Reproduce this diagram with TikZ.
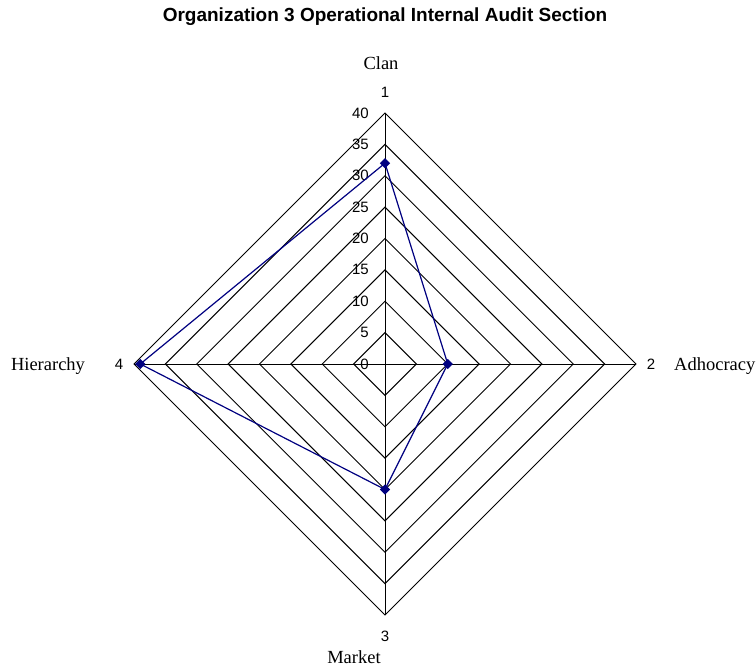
\documentclass[tikz,border=0pt]{standalone}
\usepackage{fontspec}
\setmainfont{Liberation Serif}
\newfontfamily\arialfont{Liberation Sans}
\usetikzlibrary{shapes.geometric}
\definecolor{seriesblue}{RGB}{0,0,128}
\tikzset{
  gridline/.style={black, line width=0.9pt},
  ticklabel/.style={font=\arialfont\fontsize{15}{15}\selectfont, anchor=east, inner sep=0pt},
  axisnum/.style={font=\arialfont\fontsize{15}{15}\selectfont, inner sep=0pt},
  catlabel/.style={font=\fontsize{18.5}{18.5}\selectfont, inner sep=0pt},
  series/.style={seriesblue, line width=1.2pt},
  marker/.style={diamond, fill=seriesblue, draw=none, inner sep=0pt, minimum size=10.5pt},
}
\begin{document}
\begin{tikzpicture}[x=1pt,y=1pt]
  \useasboundingbox (-385,-307) rectangle (371,364);
  \def\u{6.275}
  % concentric rings every 5 units
  \foreach \k in {5,10,...,40}{
    \pgfmathsetmacro{\r}{\k*\u}
    \draw[gridline] (0,\r) -- (\r,0) -- (0,-\r) -- (-\r,0) -- cycle;
    \node[ticklabel] at (-16,\r) {\k};
  }
  \node[ticklabel] at (-16,0) {0};
  % spokes
  \coordinate (c) at (0,0);
  \coordinate (a1) at (0,251);
  \coordinate (a2) at (251,0);
  \coordinate (a3) at (0,-251);
  \coordinate (a4) at (-251,0);
  \foreach \a in {a1,a2,a3,a4} \draw[gridline] (c) -- (\a);
  % axis numbers and category names
  \node[axisnum] (n1) at (0,272) {1};
  \node[axisnum] (n2) at (266,0) {2};
  \node[axisnum] (n3) at (0,-272) {3};
  \node[axisnum] (n4) at (-266,0) {4};
  \node[catlabel] (clan) at (-4,301) {Clan};
  \node[catlabel, anchor=west] (adh) at (289,-2) {Adhocracy};
  \node[catlabel] (mkt) at (-31,-293) {Market};
  \node[catlabel] (hier) at (-337,-2) {Hierarchy};
  % title
  \node[font=\arialfont\bfseries\fontsize{19}{19}\selectfont, inner sep=0pt] (title) at (0,347)
    {Organization 3 Operational Internal Audit Section};
  % data series
  \node[marker] (p1) at (0,32*\u) {};
  \node[marker] (p2) at (10*\u,0) {};
  \node[marker] (p3) at (0,-20*\u) {};
  \node[marker] (p4) at (-39*\u,0) {};
  \draw[series] (p1.center) -- (p2.center) -- (p3.center) -- (p4.center) -- cycle;
\end{tikzpicture}
\end{document}
